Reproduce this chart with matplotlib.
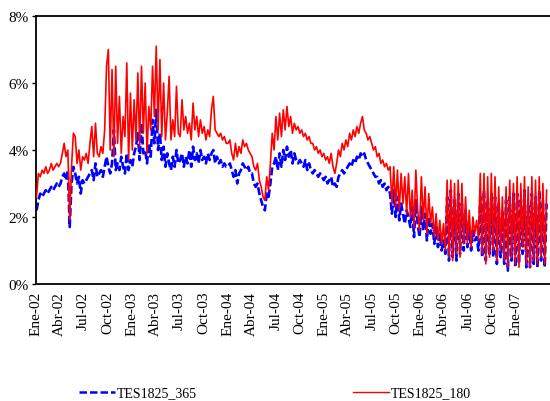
import matplotlib
matplotlib.use("Agg")
import matplotlib.pyplot as plt
from matplotlib.lines import Line2D
import pandas as pd

plt.rcParams['font.family'] = ['Liberation Serif', 'DejaVu Serif']

series_labels = ["TES1825_365", "TES1825_180"]
start_date = "2002-01-04"

# weekly readings (%), quarter by quarter
tes_180 = [
    # Q1 2002
    2.6, 3.3, 3.2, 3.4, 3.3, 3.5, 3.3, 3.4, 3.6, 3.4, 3.5, 3.6, 3.5,
    # Q2 2002
    3.6, 3.9, 4.2, 3.8, 4.0, 1.9, 3.5, 4.5, 4.4, 3.6, 4.0, 3.4, 3.8,
    # Q3 2002
    3.7, 3.9, 3.6, 4.2, 4.7, 3.8, 4.8, 3.9, 3.8, 4.1, 3.9, 4.6, 6.5,
    # Q4 2002
    7.0, 4.0, 6.4, 3.8, 6.5, 4.2, 5.6, 3.9, 5.0, 4.4, 6.6, 3.7, 5.7,
    # Q1 2003
    4.0, 5.5, 4.3, 6.3, 4.1, 6.5, 4.5, 6.0, 3.9, 5.3, 4.6, 6.5, 5.0,
    # Q2 2003
    7.1, 4.6, 6.7, 4.4, 6.0, 4.3, 5.1, 6.2, 4.3, 4.9, 4.4, 5.9, 4.5,
    # Q3 2003
    4.4, 5.5, 4.6, 5.0, 4.5, 4.8, 4.3, 5.4, 4.6, 5.0, 4.4, 4.9, 4.5,
    # Q4 2003
    4.7, 4.3, 4.6, 4.4, 5.2, 5.6, 4.6, 4.5, 4.4, 4.5, 4.3, 4.4, 4.2,
    # Q1 2004
    4.2, 4.3, 3.9, 3.7, 4.2, 3.8, 4.1, 3.9, 4.3, 4.1, 4.2, 4.0, 3.9,
    # Q2 2004
    3.8, 3.5, 3.4, 3.6, 3.1, 2.9, 2.6, 2.5, 3.2, 2.8, 3.6, 4.5, 4.0,
    # Q3 2004
    5.0, 4.3, 5.1, 4.4, 5.2, 4.6, 5.3, 4.7, 5.0, 4.5, 4.8, 4.6, 4.7,
    # Q4 2004
    4.5, 4.6, 4.4, 4.5, 4.3, 4.4, 4.2, 4.2, 4.0, 4.1, 3.9, 4.0, 3.8,
    # Q1 2005
    3.9, 3.7, 3.8, 3.6, 3.9, 3.5, 3.3, 3.6, 4.0, 3.8, 4.2, 4.0, 4.3,
    # Q2 2005
    4.1, 4.5, 4.3, 4.6, 4.4, 4.7, 4.5, 4.8, 5.0, 4.6, 4.5, 4.3, 4.4,
    # Q3 2005
    4.2, 4.0, 4.1, 3.8, 3.9, 3.6, 3.7, 3.5, 3.6, 3.4, 3.5, 2.4, 3.5,
    # Q4 2005
    2.3, 3.4, 2.2, 3.3, 2.4, 3.2, 2.1, 3.3, 2.0, 2.8, 1.7, 3.4, 2.2,
    # Q1 2006
    1.6, 3.2, 1.9, 2.9, 1.5, 2.7, 1.8, 2.3, 1.4, 2.1, 1.3, 1.9, 1.2,
    # Q2 2006
    1.8, 1.0, 3.1, 0.8, 3.1, 0.7, 3.0, 0.9, 3.1, 0.8, 3.0, 1.2, 2.6,
    # Q3 2006
    1.2, 2.2, 1.1, 2.0, 1.5, 1.9, 1.3, 3.3, 0.9, 3.3, 0.6, 3.2, 0.8,
    # Q4 2006
    3.3, 1.0, 3.2, 0.7, 2.9, 1.0, 2.6, 0.7, 2.9, 0.5, 3.1, 0.8, 3.0,
    # Q1 2007
    0.6, 3.2, 0.5, 3.0, 1.1, 3.2, 0.6, 2.9, 0.5, 3.2, 0.7, 3.1, 0.6,
    3.2, 0.8, 3.0, 0.6, 2.8,
]

tes_365 = [
    # Q1 2002
    2.2, 2.5, 2.7, 2.6, 2.7, 2.8, 2.7, 2.8, 2.9, 2.8, 2.9, 3.0, 2.9,
    # Q2 2002
    3.0, 3.2, 3.3, 3.1, 3.4, 1.7, 3.0, 3.5, 3.3, 3.0, 3.2, 2.7, 3.1,
    # Q3 2002
    3.0, 3.1, 3.2, 3.3, 3.4, 3.1, 3.6, 3.2, 3.3, 3.4, 3.2, 3.5, 3.8,
    # Q4 2002
    3.5, 3.3, 3.6, 4.6, 3.4, 3.6, 3.4, 3.8, 3.5, 3.3, 3.9, 3.4, 3.7,
    # Q1 2003
    3.5, 3.9, 4.1, 4.5, 3.7, 4.8, 3.9, 4.0, 3.6, 4.2, 3.8, 4.9, 4.2,
    # Q2 2003
    5.2, 4.0, 4.5, 3.7, 4.1, 3.5, 3.9, 3.6, 3.4, 3.8, 3.5, 4.0, 3.6,
    # Q3 2003
    3.7, 3.9, 3.5, 3.8, 3.6, 4.0, 3.5, 4.1, 3.7, 3.9, 3.6, 4.0, 3.7,
    # Q4 2003
    3.8, 3.6, 3.9, 3.7, 3.9, 4.0, 3.6, 3.8, 3.6, 3.7, 3.5, 3.6, 3.5,
    # Q1 2004
    3.5, 3.6, 3.4, 3.2, 3.4, 3.0, 3.3, 3.4, 3.6, 3.5, 3.4, 3.5, 3.3,
    # Q2 2004
    3.3, 3.0, 2.9, 3.0, 2.7, 2.5, 2.3, 2.2, 2.7, 2.6, 3.0, 3.5, 3.6,
    # Q3 2004
    3.8, 3.4, 3.9, 3.5, 4.0, 3.7, 4.1, 3.8, 4.0, 3.6, 3.9, 3.7, 3.6,
    # Q4 2004
    3.7, 3.6, 3.5, 3.7, 3.4, 3.6, 3.4, 3.3, 3.4, 3.3, 3.2, 3.3, 3.2,
    # Q1 2005
    3.1, 3.2, 3.0, 3.1, 3.2, 2.9, 3.0, 2.9, 3.2, 3.3, 3.4, 3.3, 3.4,
    # Q2 2005
    3.5, 3.6, 3.5, 3.7, 3.6, 3.8, 3.7, 3.9, 3.8, 3.9, 3.7, 3.6, 3.5,
    # Q3 2005
    3.4, 3.3, 3.2, 3.2, 3.0, 3.1, 2.9, 3.0, 2.8, 2.9, 2.7, 2.1, 2.8,
    # Q4 2005
    2.0, 2.6, 1.9, 2.4, 2.1, 1.8, 2.2, 2.0, 1.7, 2.3, 1.4, 2.5, 1.8,
    # Q1 2006
    1.4, 2.3, 1.6, 2.1, 1.3, 2.0, 1.5, 1.8, 1.2, 1.7, 1.1, 1.5, 1.0,
    # Q2 2006
    1.3, 0.9, 2.6, 0.7, 2.8, 0.8, 2.5, 0.7, 2.7, 0.9, 2.4, 1.0, 2.2,
    # Q3 2006
    1.1, 1.7, 1.0, 1.6, 1.3, 1.4, 1.0, 2.6, 0.8, 2.8, 0.7, 2.5, 0.9,
    # Q4 2006
    2.7, 0.8, 2.6, 0.6, 2.4, 0.8, 2.2, 0.6, 2.5, 0.4, 2.6, 0.7, 2.7,
    # Q1 2007
    0.5, 2.7, 0.6, 2.5, 0.9, 2.8, 0.5, 2.4, 0.5, 2.7, 0.6, 2.6, 0.5,
    2.8, 0.7, 2.5, 0.5, 2.4,
]

tick_dates = ["2002-01-01", "2002-04-01", "2002-07-01", "2002-10-01",
              "2003-01-01", "2003-04-01", "2003-07-01", "2003-10-01",
              "2004-01-01", "2004-04-01", "2004-07-01", "2004-10-01",
              "2005-01-01", "2005-04-01", "2005-07-01", "2005-10-01",
              "2006-01-01", "2006-04-01", "2006-07-01", "2006-10-01",
              "2007-01-01"]
tick_labels = ["Ene-02", "Abr-02", "Jul-02", "Oct-02", "Ene-03", "Abr-03",
               "Jul-03", "Oct-03", "Ene-04", "Abr-04", "Jul-04", "Oct-04",
               "Ene-05", "Abr-05", "Jul-05", "Oct-05", "Ene-06", "Abr-06",
               "Jul-06", "Oct-06", "Ene-07"]
y_ticks = [0, 2, 4, 6, 8]
y_tick_labels = ["0%", "2%", "4%", "6%", "8%"]

dates = pd.date_range(start_date, periods=len(tes_180), freq="7D")

fig = plt.figure(figsize=(5.5, 4.02), dpi=100)
ax = fig.add_axes([35.5 / 550, (402 - 285) / 402, 1 - 35.5 / 550, (285 - 17) / 402])

ax.plot(dates, tes_365, color="#0000FF", lw=1.9, linestyle=(0, (3, 1.2)),
        label=series_labels[0], zorder=2)
ax.plot(dates, tes_180, color="#FF0000", lw=1.2, label=series_labels[1], zorder=3)

x0 = pd.Timestamp("2002-01-01")
ax.set_xlim(x0 - pd.Timedelta(days=1), x0 + pd.Timedelta(days=int((550 - 35.5) * 3.8)))
ax.set_ylim(0, 8)
ax.set_yticks(y_ticks)
ax.set_yticklabels(y_tick_labels, fontsize=11)
ax.set_xticks(pd.to_datetime(tick_dates))
ax.set_xticklabels(tick_labels, rotation=90, fontsize=11)
ax.tick_params(axis="x", length=0, pad=5)
ax.tick_params(axis="y", length=3, width=1, pad=2, direction="out")

for s in ["left", "bottom", "top"]:
    ax.spines[s].set_color("black")
    ax.spines[s].set_linewidth(1.3)
ax.spines["right"].set_visible(False)

h1 = Line2D([], [], color="#0000FF", lw=1.8, linestyle=(0, (3, 1.2)))
h2 = Line2D([], [], color="#FF0000", lw=1.0)
fig.legend([h1], [series_labels[0]], loc="center left", bbox_to_anchor=(79 / 550, 1 - 394 / 402),
           frameon=False, fontsize=10, handlelength=2.6, handletextpad=0.15,
           borderpad=0, borderaxespad=0)
fig.legend([h2], [series_labels[1]], loc="center left", bbox_to_anchor=(353 / 550, 1 - 394 / 402),
           frameon=False, fontsize=10, handlelength=2.6, handletextpad=0.15,
           borderpad=0, borderaxespad=0)

fig.savefig("out.png", dpi=100)
